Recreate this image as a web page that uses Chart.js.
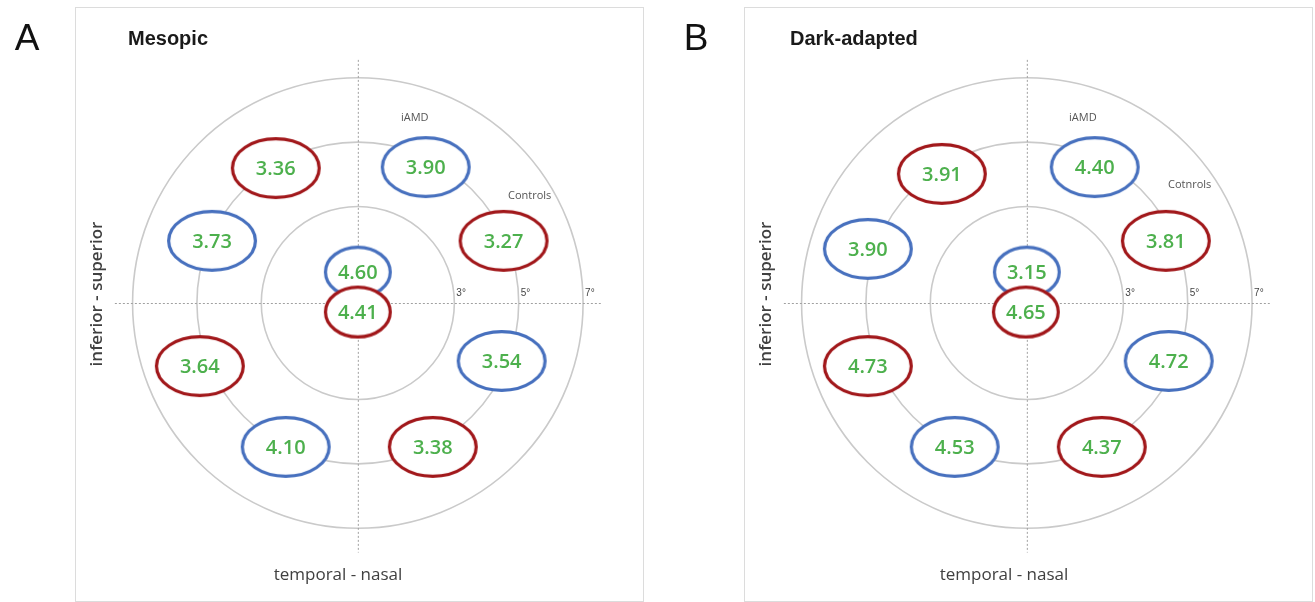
<!DOCTYPE html>
<html>
<head>
<meta charset="utf-8">
<script src="https://cdn.jsdelivr.net/npm/chart.js@4.4.0/dist/chart.umd.min.js"></script>
<style>
  body { margin: 0; background: #fff; width: 1315px; height: 602px; overflow: hidden; position: relative; }
  .painel { position: absolute; top: 0; width: 646px; height: 602px; }
</style>
</head>
<body>
<div class="painel" style="left:0"><canvas id="chartMesopic" width="646" height="602"></canvas></div>
<div class="painel" style="left:669px"><canvas id="chartDark" width="646" height="602"></canvas></div>

<script>
// Dados (posições em graus de excentricidade, valores em dB)
const ringDegrees = [3, 5, 7];
const ringLabels = ['3°', '5°', '7°'];

// A - Mesopic
const mesopicIamd  = [3.90, 3.73, 4.60, 3.54, 4.10];
const mesopicIamdX = [2.11, -4.53, 0.00, 4.47, -2.24];
const mesopicIamdY = [4.22, 1.93, 0.96, -1.80, -4.47];
const mesopicCtrl  = [3.36, 3.27, 4.41, 3.64, 3.38];
const mesopicCtrlX = [-2.55, 4.53, 0.00, -4.91, 2.33];
const mesopicCtrlY = [4.19, 1.93, -0.28, -1.96, -4.47];

// B - Dark-adapted
const darkIamd  = [4.40, 3.90, 3.15, 4.72, 4.53];
const darkIamdX = [2.11, -4.94, 0.00, 4.41, -2.24];
const darkIamdY = [4.22, 1.68, 0.96, -1.80, -4.47];
const darkCtrl  = [3.91, 3.81, 4.65, 4.73, 4.37];
const darkCtrlX = [-2.64, 4.32, -0.03, -4.94, 2.33];
const darkCtrlY = [4.01, 1.93, -0.28, -1.96, -4.47];

// Layout
const PX_POR_GRAU = 32.2;
const CENTRO_X = 358, CENTRO_Y = 303;
const LARG = 646, ALT = 602;
const FAIXA = 8.8;
const CAIXA = { left: 75, top: 7, right: 643, bottom: 601 };
const AZUL = '#4770be', VERMELHO = '#a1171a', VERDE = '#4db04d';

const cacheOvais = {};
function oval(cor, pequeno) {
    const chave = cor + pequeno;
    if (cacheOvais[chave]) return cacheOvais[chave];
    const w = pequeno ? 68 : 90, h = pequeno ? 53 : 62;
    const c = document.createElement('canvas');
    c.width = w + 2; c.height = h + 2;
    const g = c.getContext('2d');
    g.beginPath();
    g.ellipse(c.width / 2, c.height / 2, (w - 3.2) / 2, (h - 3.2) / 2, 0, 0, Math.PI * 2);
    g.fillStyle = '#fff';
    g.fill();
    g.lineWidth = 3.2;
    g.strokeStyle = cor;
    g.stroke();
    cacheOvais[chave] = c;
    return c;
}

function pontos(xs, ys) {
    return xs.map((x, i) => ({ x: x, y: ys[i] }));
}

const decoracao = {
    id: 'decoracao',
    beforeDatasetsDraw(chart, args, o) {
        const ctx = chart.ctx;
        const sx = chart.scales.x, sy = chart.scales.y;
        const cx = sx.getPixelForValue(0), cy = sy.getPixelForValue(0);
        ctx.save();
        // moldura
        ctx.strokeStyle = '#dcdcdc';
        ctx.lineWidth = 1;
        ctx.strokeRect(CAIXA.left + 0.5, CAIXA.top + 0.5, CAIXA.right - CAIXA.left, CAIXA.bottom - CAIXA.top);
        // anéis
        ctx.strokeStyle = '#cacaca';
        ctx.lineWidth = 1.6;
        ringDegrees.forEach(r => {
            ctx.beginPath();
            ctx.arc(cx, cy, sx.getPixelForValue(r) - cx, 0, Math.PI * 2);
            ctx.stroke();
        });
        // eixos tracejados
        ctx.strokeStyle = '#a0a0a0';
        ctx.lineWidth = 1;
        ctx.setLineDash([2, 2]);
        ctx.beginPath();
        ctx.moveTo(sx.getPixelForValue(-7.55), cy + 0.5);
        ctx.lineTo(sx.getPixelForValue(7.55), cy + 0.5);
        ctx.moveTo(cx + 0.5, sy.getPixelForValue(7.55));
        ctx.lineTo(cx + 0.5, sy.getPixelForValue(-7.75));
        ctx.stroke();
        ctx.setLineDash([]);
        // rótulos dos anéis
        ctx.fillStyle = '#444';
        ctx.font = '10px "Liberation Sans"';
        ctx.textAlign = 'left';
        ctx.textBaseline = 'middle';
        ringDegrees.forEach((r, i) => {
            ctx.fillText(ringLabels[i], sx.getPixelForValue(r) + 2, cy - 10);
        });
        // legendas dos grupos
        ctx.fillStyle = '#555';
        ctx.font = '11px "Open Sans"';
        ctx.textAlign = 'center';
        o.grupos.forEach(gp => {
            ctx.fillText(gp.texto, sx.getPixelForValue(gp.x), sy.getPixelForValue(gp.y));
        });
        // letra do painel
        ctx.fillStyle = '#111';
        ctx.font = '37px "Liberation Sans"';
        ctx.fillText(o.letra, 27, 40);
        // título
        ctx.textAlign = 'left';
        ctx.font = 'bold 20px "Liberation Sans"';
        ctx.fillStyle = '#1a1a1a';
        ctx.fillText(o.titulo, o.tituloX, 39);
        // títulos dos eixos
        ctx.fillStyle = '#404040';
        ctx.textAlign = 'center';
        ctx.font = '17px "Open Sans"';
        ctx.fillText('temporal - nasal', o.eixoXCentro, 575);
        ctx.font = '600 17px "Open Sans"';
        ctx.translate(97, 294);
        ctx.rotate(-Math.PI / 2);
        ctx.fillText('inferior - superior', 0, 0);
        ctx.restore();
    },
    afterDatasetsDraw(chart) {
        const ctx = chart.ctx;
        ctx.save();
        ctx.fillStyle = VERDE;
        ctx.font = '600 20px "Open Sans"';
        ctx.textAlign = 'center';
        ctx.textBaseline = 'middle';
        chart.data.datasets.forEach((ds, i) => {
            chart.getDatasetMeta(i).data.forEach((el, j) => {
                ctx.fillText(ds.valores[j].toFixed(2), el.x, el.y + 1);
            });
        });
        ctx.restore();
    }
};

function gerarGrafico(id, iamd, iamdX, iamdY, ctrl, ctrlX, ctrlY, opcoes) {
    const conjunto = (label, valores, xs, ys, cor, ordem) => ({
        label: label,
        data: pontos(xs, ys),
        valores: valores,
        order: ordem,
        pointRadius: 3,
        pointStyle: c => {
            const p = c.raw;
            return oval(cor, Math.hypot(p.x, p.y) < 2);
        }
    });
    new Chart(document.getElementById(id), {
        type: 'scatter',
        data: {
            datasets: [
                conjunto('iAMD', iamd, iamdX, iamdY, AZUL, 1),
                conjunto('Controls', ctrl, ctrlX, ctrlY, VERMELHO, 0)
            ]
        },
        options: {
            responsive: false,
            animation: false,
            events: [],
            layout: {
                padding: {
                    left: CENTRO_X - FAIXA * PX_POR_GRAU,
                    right: LARG - CENTRO_X - FAIXA * PX_POR_GRAU,
                    top: CENTRO_Y - FAIXA * PX_POR_GRAU,
                    bottom: ALT - CENTRO_Y - FAIXA * PX_POR_GRAU
                }
            },
            scales: {
                x: { type: 'linear', min: -FAIXA, max: FAIXA, display: false },
                y: { type: 'linear', min: -FAIXA, max: FAIXA, display: false }
            },
            plugins: {
                legend: { display: false },
                tooltip: { enabled: false },
                decoracao: opcoes
            }
        },
        plugins: [decoracao]
    });
}

gerarGrafico('chartMesopic', mesopicIamd, mesopicIamdX, mesopicIamdY, mesopicCtrl, mesopicCtrlX, mesopicCtrlY, {
    letra: 'A', titulo: 'Mesopic', tituloX: 128, eixoXCentro: 338,
    grupos: [{ texto: 'iAMD', x: 1.77, y: 5.75 }, { texto: 'Controls', x: 5.34, y: 3.32 }]
});
gerarGrafico('chartDark', darkIamd, darkIamdX, darkIamdY, darkCtrl, darkCtrlX, darkCtrlY, {
    letra: 'B', titulo: 'Dark-adapted', tituloX: 121, eixoXCentro: 335,
    grupos: [{ texto: 'iAMD', x: 1.74, y: 5.75 }, { texto: 'Cotnrols', x: 5.06, y: 3.66 }]
});
</script>
</body>
</html>
